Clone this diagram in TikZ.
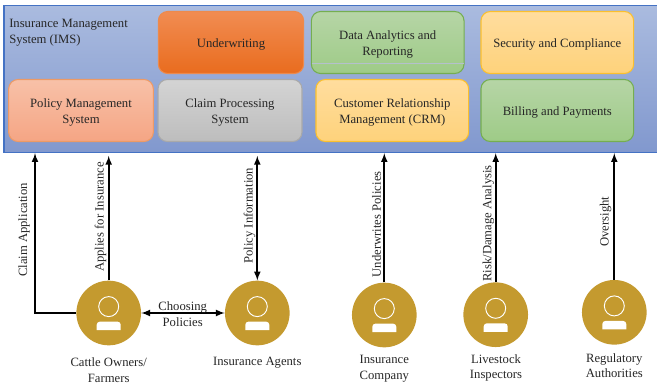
\documentclass[tikz,border=0pt]{standalone}
\usepackage{fontspec}
\setmainfont{Liberation Serif}
\definecolor{imsborder}{HTML}{4472C4}
\definecolor{imstop}{HTML}{AABBDF}
\definecolor{imsbottom}{HTML}{8198CE}
\definecolor{persongold}{HTML}{C49A2F}
\definecolor{labelgray}{HTML}{262626}
\definecolor{orangeline}{HTML}{ED8A4C}
\definecolor{orangetop}{HTML}{F18C52}
\definecolor{orangebottom}{HTML}{E96C1E}
\definecolor{peachline}{HTML}{ED9A66}
\definecolor{peachtop}{HTML}{F8C1A8}
\definecolor{peachbottom}{HTML}{F5A584}
\definecolor{grayline}{HTML}{A9A9A9}
\definecolor{graytop}{HTML}{D4D4D4}
\definecolor{graybottom}{HTML}{BDBDBD}
\definecolor{yellowline}{HTML}{FBC02D}
\definecolor{yellowtop}{HTML}{FFDD9E}
\definecolor{yellowbottom}{HTML}{FED27B}
\definecolor{greenline}{HTML}{75AE50}
\definecolor{greentop}{HTML}{B6D5A6}
\definecolor{greenbottom}{HTML}{9ECB87}
\definecolor{greenstreak}{HTML}{B4C0CC}
\tikzset{
    every node/.style={font=\fontsize{9.5}{11.7}\selectfont, text=labelgray, align=center},
    every label/.style={yshift=-1.7pt},
    module/.style={rounded corners=7pt, line width=0.8pt, minimum height=46.5pt, inner sep=0pt},
    orangebox/.style={module, draw=orangeline, top color=orangetop, bottom color=orangebottom},
    peachbox/.style={module, draw=peachline, top color=peachtop, bottom color=peachbottom},
    graybox/.style={module, draw=grayline, top color=graytop, bottom color=graybottom},
    yellowbox/.style={module, draw=yellowline, top color=yellowtop, bottom color=yellowbottom},
    greenbox/.style={module, draw=greenline, top color=greentop, bottom color=greenbottom},
    person/.style={circle, fill=persongold, minimum size=48.5pt, inner sep=0pt},
    flow/.style={line width=1.25pt, ->, >=latex, black},
    biflow/.style={flow, <->},
    flowlabel/.style={rotate=90}
}
\begin{document}
\begin{tikzpicture}[x=0.75pt, y=-0.75pt]
    \useasboundingbox (0, 0) rectangle (657, 385);

    % system block
    \node[draw=imsborder, line width=0.8pt, top color=imstop, bottom color=imsbottom, minimum width=495pt, minimum height=110.5pt, inner sep=0pt] (ims) at (334, 79) {};
    \node[align=left, anchor=west, inner sep=0pt] (imstitle) at (9, 32.5) {Insurance Management\\System (IMS)};

    \node[orangebox, minimum width=109pt, label={center:Underwriting}] (underwriting) at (231, 42.5) {};
    \node[greenbox, minimum width=114.5pt, label={center:{Data Analytics and\\Reporting}}] (analytics) at (387.7, 42.5) {};
    \node[yellowbox, minimum width=114.5pt, label={center:Security and Compliance}] (security) at (557.3, 42.5) {};
    \node[peachbox, minimum width=108.5pt, label={center:{Policy Management\\System}}] (policy) at (81, 110.5) {};
    \node[graybox, minimum width=108pt, label={center:{Claim Processing\\System}}] (claims) at (230, 110.5) {};
    \node[yellowbox, minimum width=114.5pt, label={center:{Customer Relationship\\Management (CRM)}}] (crm) at (392.3, 110.5) {};
    \node[greenbox, minimum width=114.5pt, label={center:Billing and Payments}] (billing) at (557.3, 110.5) {};
    \draw[greenstreak, line width=0.3pt, shorten <=0.6pt, shorten >=0.6pt] ([yshift=-15.4pt]analytics.west) -- ([yshift=-15.4pt]analytics.east);

    % people
    \node[person] (cattle) at (108.7, 313) {};
    \node[person] (agents) at (257.3, 313) {};
    \node[person] (insurer) at (384.3, 315) {};
    \node[person] (inspectors) at (495.7, 314.7) {};
    \node[person] (regulators) at (614.3, 312.3) {};

    \foreach \who in {cattle, agents, insurer, inspectors, regulators} {
        \draw[white, line width=0.7pt] ([yshift=4.8pt]\who.center) circle (7.5pt);
        \fill[white] ([shift={(-9pt,-12.8pt)}]\who.center) -- ([shift={(-9pt,-8.8pt)}]\who.center) arc (180:90:2.3pt) -- ([shift={(6.7pt,-6.5pt)}]\who.center) arc (90:0:2.3pt) -- ([shift={(9pt,-12.8pt)}]\who.center) -- cycle;
    }

    \node (cattlename) at (108.7, 370) {Cattle Owners/\\Farmers};
    \node (agentsname) at (257.3, 363) {Insurance Agents};
    \node (insurername) at (384.3, 369) {Insurance\\Company};
    \node (inspectorsname) at (496, 368) {Livestock\\Inspectors};
    \node (regulatorsname) at (614.3, 365.5) {Regulatory\\Authorities};

    % connectors
    \coordinate (claimcorner) at (35, 313);
    \draw[flow] (cattle.west) -- (claimcorner) -- (claimcorner |- ims.south);
    \draw[flow] (cattle.north) -- ([yshift=-2pt]cattle.north |- ims.south);
    \draw[biflow] (agents.north) -- ([yshift=-2pt]agents.north |- ims.south);
    \draw[biflow] (cattle.east) -- (agents.west);
    \draw[flow] (insurer.north) -- (insurer.north |- ims.south);
    \draw[flow] (inspectors.north) -- (inspectors.north |- ims.south);
    \draw[flow] (regulators.north) -- (regulators.north |- ims.south);

    \node[flowlabel] (claimlabel) at (24, 230) {Claim Application};
    \node[flowlabel] (applieslabel) at (100.6, 217) {Applies for Insurance};
    \node[flowlabel] (infolabel) at (249.6, 215.7) {Policy Information};
    \node[flowlabel] (underwriteslabel) at (376.6, 224.3) {Underwrites Policies};
    \node[flowlabel] (risklabel) at (488.3, 223.5) {Risk/Damage Analysis};
    \node[flowlabel] (oversightlabel) at (605.6, 221.5) {Oversight};
    \node (choosinglabel) at (182.7, 314) {Choosing\\Policies};
\end{tikzpicture}
\end{document}
